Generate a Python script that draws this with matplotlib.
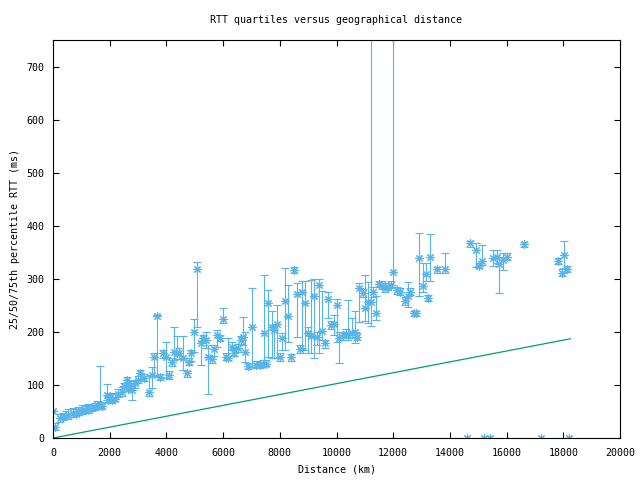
import matplotlib
matplotlib.use('Agg')
import matplotlib.pyplot as plt
import numpy as np

# distance (km) and RTT quartiles (ms)
dist_km = [0, 70, 250, 365, 450, 540, 715, 800, 890, 1010, 1130, 1200, 1250, 1365, 1480, 1540,
           1600, 1660, 1720, 1890, 1950, 2000, 2070, 2190, 2300, 2420, 2500, 2600, 2660, 2750,
           2800, 2890, 3000, 3070, 3220, 3380, 3500, 3560, 3680, 3770, 3890, 3990, 4100, 4190,
           4280, 4390, 4460, 4600, 4720, 4810, 4860, 4970, 5090, 5210, 5300, 5400, 5480, 5600,
           5680, 5800, 5890, 6010, 6100, 6180, 6300, 6390, 6510, 6620, 6700, 6790, 6890, 7010,
           7170, 7290, 7410, 7460, 7520, 7600, 7710, 7800, 7910, 8010, 8090, 8180, 8300, 8390,
           8510, 8620, 8710, 8800, 8890, 9010, 9100, 9220, 9300, 9390, 9500, 9590, 9710, 9790,
           9920, 10030, 10100, 10220, 10340, 10420, 10530, 10650, 10710, 10810, 10930, 11000,
           11120, 11220, 11300, 11390, 11510, 11600, 11710, 11830, 11920, 11990, 12120, 12240,
           12420, 12530, 12590, 12730, 12820, 12920, 13040, 13160, 13240, 13300, 13530, 13840,
           14710, 14920, 15040, 15140, 15530, 15650, 15740, 15860, 16030, 16610, 17820, 17940,
           18020, 18140, 14600, 15200, 15400, 17200, 18200]
rtt_p50 = [51, 21, 37, 39, 41, 43, 48, 46, 50, 51, 53, 56, 53, 56, 59, 63,
           60, 62, 60, 81, 72, 78, 72, 74, 83, 87, 98, 109, 93, 100,
           90, 103, 110, 122, 113, 86, 119, 153, 229, 115, 160, 153, 119, 144,
           163, 160, 160, 150, 122, 144, 160, 200, 318, 179, 189, 184, 153, 148,
           167, 194, 189, 225, 153, 150, 172, 160, 169, 185, 191, 163, 136, 210,
           138, 138, 140, 197, 140, 254, 210, 204, 214, 153, 188, 258, 229, 152,
           316, 272, 167, 275, 254, 197, 192, 268, 190, 289, 202, 179, 262, 213,
           214, 251, 188, 194, 196, 194, 197, 200, 191, 282, 273, 245,
           257, 257, 276, 235, 291, 289, 282, 285, 289, 313, 279, 276,
           258, 268, 276, 236, 236, 339, 287, 309, 264, 341, 318, 318,
           367, 355, 325, 334, 340, 342, 328, 336, 341, 365, 334, 311,
           345, 319, 0, 0, 0, 0, 0]
rtt_p25 = [51, 15, 30, 33, 36, 35, 40, 41, 44, 45, 47, 51, 48, 50, 53, 58,
           56, 57, 55, 72, 66, 73, 66, 70, 77, 80, 92, 100, 88, 95,
           72, 95, 104, 112, 107, 80, 94, 116, 116, 110, 150, 114, 112, 136,
           147, 157, 148, 128, 115, 138, 145, 163, 209, 138, 180, 170, 83, 142,
           155, 172, 182, 216, 147, 147, 165, 155, 162, 178, 175, 144, 130, 134,
           132, 132, 133, 141, 135, 153, 150, 150, 150, 146, 165, 166, 180, 146,
           310, 191, 160, 170, 165, 160, 160, 150, 175, 160, 185, 170, 226, 205,
           195, 181, 141, 185, 188, 185, 188, 179, 185, 219, 265, 220,
           216, 211, 265, 223, 285, 280, 275, 278, 282, 289, 272, 270,
           250, 247, 270, 230, 230, 268, 275, 295, 258, 295, 310, 310,
           360, 323, 320, 326, 325, 330, 273, 317, 335, 360, 328, 305,
           320, 312, 0, 0, 0, 0, 0]
rtt_p75 = [51, 28, 45, 47, 50, 55, 56, 54, 58, 62, 60, 63, 64, 63, 66, 70,
           70, 136, 68, 102, 80, 85, 82, 85, 92, 97, 104, 115, 104, 108,
           98, 110, 117, 128, 120, 116, 134, 160, 232, 120, 166, 181, 126, 150,
           210, 193, 170, 193, 126, 150, 165, 224, 331, 182, 195, 200, 175, 155,
           175, 204, 195, 245, 160, 188, 180, 168, 178, 192, 228, 200, 142, 282,
           145, 144, 147, 307, 147, 278, 240, 212, 251, 160, 197, 320, 289, 158,
           322, 292, 175, 295, 296, 210, 297, 300, 200, 299, 277, 185, 275, 220,
           232, 262, 200, 200, 205, 260, 226, 240, 197, 292, 280, 308,
           294, 900, 285, 268, 296, 295, 288, 292, 295, 900, 285, 282,
           265, 294, 282, 240, 240, 387, 330, 330, 270, 385, 322, 348,
           372, 367, 330, 363, 355, 355, 342, 348, 348, 370, 340, 318,
           372, 325, 0, 0, 0, 0, 0]

# speed-of-light reference line, two end points
line_km = [0, 18250]
line_ms = [0, 187]

plt.rcParams['font.family'] = ['DejaVu Sans Mono']
plt.rcParams['font.size'] = 7.2

d = np.array(dist_km)
p25 = np.array(rtt_p25)
p50 = np.array(rtt_p50)
p75 = np.array(rtt_p75)

blue = '#56b4e9'
green = '#009e73'

fig = plt.figure(figsize=(6.4, 4.8), dpi=100)
ax = fig.add_axes([53/640, 42/480, 567/640, 398/480])

ax.errorbar(d, p50, yerr=[p50 - p25, p75 - p50], fmt='none', ecolor=blue,
            elinewidth=0.8, capsize=3, capthick=0.8)
ax.plot(d, p50, linestyle='none', marker=(8, 2, 0), ms=6, mew=0.8, color=blue)
ax.plot(line_km, line_ms, color=green, lw=0.9)

ax.set_xlim(0, 20000)
ax.set_ylim(0, 750)
ax.set_xticks(np.arange(0, 20001, 2000))
ax.set_yticks(np.arange(0, 701, 100))
ax.tick_params(direction='in', top=True, right=True, length=4, width=0.8)
ax.tick_params(axis='x', pad=7)
ax.tick_params(axis='y', pad=6)
for s in ax.spines.values():
    s.set_linewidth(0.8)

fig.text(336.5/640, 1 - 20/480, 'RTT quartiles versus geographical distance',
         ha='center', va='center')
fig.text(336.5/640, 1 - 470/480, 'Distance (km)', ha='center', va='center')
fig.text(15/640, 1 - 239/480, '25/50/75th percentile RTT (ms)', ha='center',
         va='center', rotation=90)

fig.savefig('out.png', dpi=100)
